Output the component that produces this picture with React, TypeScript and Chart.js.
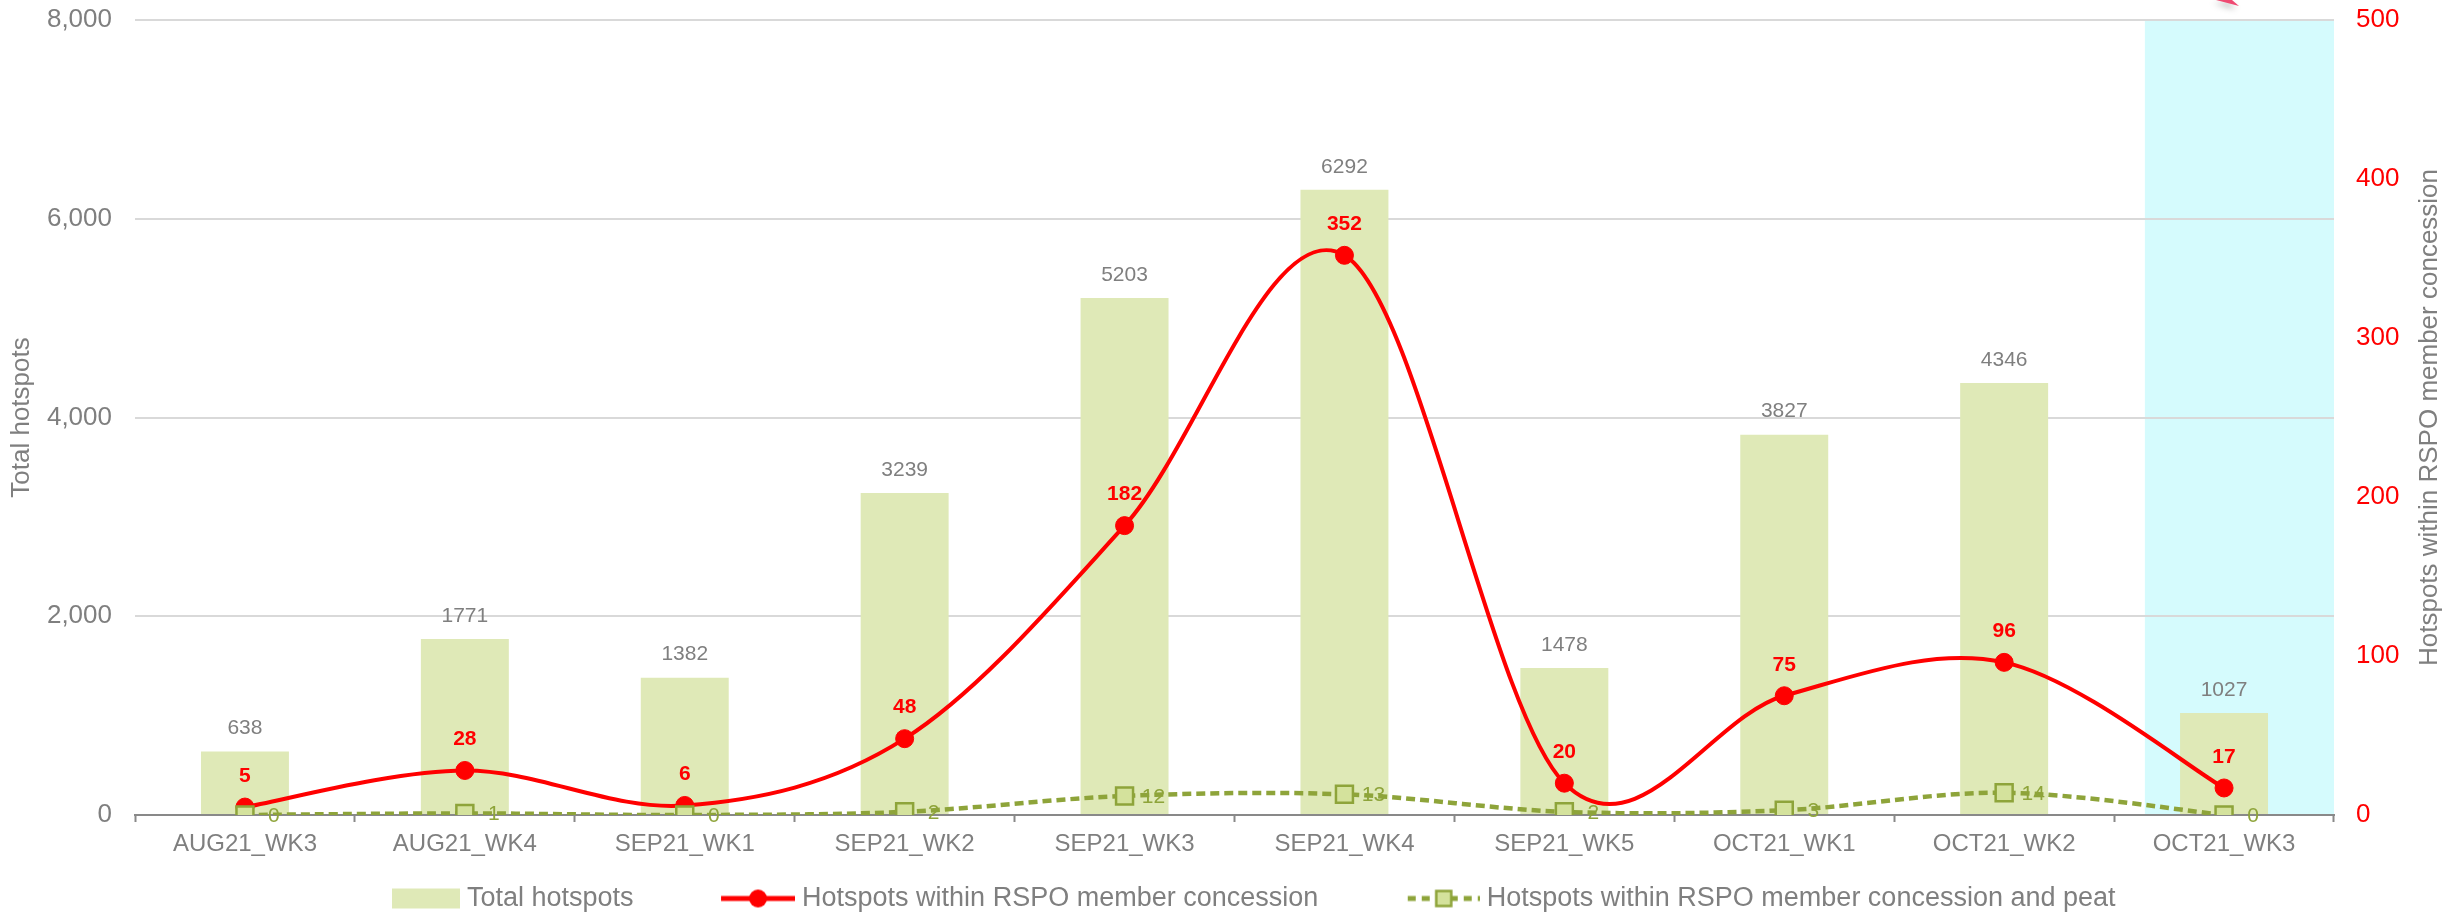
import React, { useEffect, useRef } from 'react';
import { Chart, registerables } from 'chart.js';

Chart.register(...registerables);

// ---------- data ----------
const categories = [
  'AUG21_WK3', 'AUG21_WK4', 'SEP21_WK1', 'SEP21_WK2', 'SEP21_WK3',
  'SEP21_WK4', 'SEP21_WK5', 'OCT21_WK1', 'OCT21_WK2', 'OCT21_WK3',
];
const totalHotspots = [638, 1771, 1382, 3239, 5203, 6292, 1478, 3827, 4346, 1027];
const rspoConcession = [5, 28, 6, 48, 182, 352, 20, 75, 96, 17];
const rspoConcessionPeat = [0, 1, 0, 2, 12, 13, 2, 3, 14, 0];
const leftTicks = [0, 2000, 4000, 6000, 8000];
const rightTicks = [0, 100, 200, 300, 400, 500];
const seriesNames = [
  'Total hotspots',
  'Hotspots within RSPO member concession',
  'Hotspots within RSPO member concession and peat',
];
const leftAxisTitle = 'Total hotspots';
const rightAxisTitle = 'Hotspots within RSPO member concession';

// ---------- styles ----------
const FONT = '"Liberation Sans", Arial, sans-serif';
const GREY = '#7f7f7f';
const BAR = '#dfe9b7';
const RED = '#ff0000';
const OLIVE = '#8ea43a';
const OLIVE_FILL = '#d4e29c';
const CYAN = '#d5fbfd';
const AXIS = '#898989';
const TRANSPARENT = 'rgba(0,0,0,0)';

const LEG_FONT = 27;
const LEG_P = 150;
const LEG_GAP = 7;

function legendImage(kind: number): HTMLCanvasElement {
  const W = LEG_P + LEG_FONT - 2 * LEG_GAP;
  const H = 28;
  const c = document.createElement('canvas');
  c.width = W;
  c.height = H;
  const g = c.getContext('2d')!;
  const cy = H / 2;
  if (kind === 0) {
    const cw = 68;
    g.fillStyle = BAR;
    g.fillRect(W - cw, cy - 10, cw, 20);
  } else if (kind === 1) {
    const cw = 74;
    g.strokeStyle = RED;
    g.lineWidth = 5;
    g.beginPath();
    g.moveTo(W - cw, cy);
    g.lineTo(W, cy);
    g.stroke();
    g.fillStyle = RED;
    g.beginPath();
    g.arc(W - cw / 2, cy, 9, 0, Math.PI * 2);
    g.fill();
  } else {
    const cw = 72;
    g.strokeStyle = OLIVE;
    g.lineWidth = 5;
    g.setLineDash([8, 6]);
    g.beginPath();
    g.moveTo(W - cw, cy);
    g.lineTo(W, cy);
    g.stroke();
    g.setLineDash([]);
    const s = 15;
    const cx = W - cw / 2;
    g.fillStyle = OLIVE_FILL;
    g.fillRect(cx - s / 2, cy - s / 2, s, s);
    g.lineWidth = 2.5;
    g.strokeStyle = OLIVE;
    g.strokeRect(cx - s / 2, cy - s / 2, s, s);
  }
  return c;
}

// Uniform Catmull-Rom control points (spreadsheet-style smoothing)
function smoothLine(chart: any, index: number) {
  const meta = chart.getDatasetMeta(index);
  const pts = meta.data;
  const n = pts.length;
  for (let i = 0; i < n; i++) {
    const prev = pts[Math.max(i - 1, 0)];
    const next = pts[Math.min(i + 1, n - 1)];
    const dx = (next.x - prev.x) / 6;
    const dy = (next.y - prev.y) / 6;
    pts[i].cp1x = pts[i].x - dx;
    pts[i].cp1y = pts[i].y - dy;
    pts[i].cp2x = pts[i].x + dx;
    pts[i].cp2y = pts[i].y + dy;
  }
  if (meta.dataset) meta.dataset._pointsUpdated = true;
}

const decorPlugin = {
  id: 'decor',
  beforeDraw(chart: any) {
    const { ctx, chartArea, scales } = chart;
    const x = scales.x;
    const step = x.getPixelForValue(1) - x.getPixelForValue(0);
    const left = x.getPixelForValue(categories.length - 1) - 0.36 * step;
    ctx.save();
    ctx.fillStyle = CYAN;
    ctx.fillRect(left, chartArea.top, chartArea.right - left, chartArea.bottom - chartArea.top);
    ctx.restore();
  },
  beforeDatasetDraw(chart: any, args: any) {
    if (args.index === 1 || args.index === 2) smoothLine(chart, args.index);
    if (args.index !== 2) return;
    const { ctx } = chart;
    const meta = chart.getDatasetMeta(2);
    ctx.save();
    ctx.font = `21px ${FONT}`;
    ctx.fillStyle = OLIVE;
    ctx.textAlign = 'center';
    ctx.textBaseline = 'middle';
    meta.data.forEach((el: any, i: number) => {
      ctx.fillText(String(rspoConcessionPeat[i]), el.x + 29, el.y + 1);
    });
    ctx.restore();
  },
  afterDatasetsDraw(chart: any) {
    const { ctx } = chart;
    ctx.save();
    ctx.textAlign = 'center';
    ctx.textBaseline = 'middle';
    ctx.font = `21px ${FONT}`;
    ctx.fillStyle = GREY;
    chart.getDatasetMeta(0).data.forEach((el: any, i: number) => {
      ctx.fillText(String(totalHotspots[i]), el.x, el.y - 23);
    });
    ctx.font = `bold 21px ${FONT}`;
    ctx.fillStyle = RED;
    chart.getDatasetMeta(1).data.forEach((el: any, i: number) => {
      ctx.fillText(String(rspoConcession[i]), el.x, el.y - 31);
    });
    ctx.restore();
  },
  afterDraw(chart: any) {
    const { ctx, chartArea } = chart;
    ctx.save();
    ctx.translate(chart.width - 33, (chartArea.top + chartArea.bottom) / 2);
    ctx.rotate(-Math.PI / 2);
    ctx.font = `26px ${FONT}`;
    ctx.fillStyle = GREY;
    ctx.textAlign = 'center';
    ctx.textBaseline = 'middle';
    ctx.fillText(rightAxisTitle, 0, 0);
    ctx.restore();

    // clipped annotation arrow tip at the top
    ctx.save();
    ctx.shadowColor = 'rgba(0,0,0,0.35)';
    ctx.shadowBlur = 6;
    ctx.shadowOffsetX = -3;
    ctx.shadowOffsetY = 3;
    ctx.fillStyle = '#ef4a72';
    ctx.beginPath();
    ctx.moveTo(2216, 0);
    ctx.lineTo(2232, 0);
    ctx.lineTo(2239, 6);
    ctx.closePath();
    ctx.fill();
    ctx.restore();
  },
};

export default function App() {
  const ref = useRef<HTMLCanvasElement | null>(null);

  useEffect(() => {
    document.body.style.margin = '0';
    const canvas = ref.current;
    if (!canvas) return;
    const images = [0, 1, 2].map(legendImage);

    const chart = new Chart(canvas, {
      type: 'bar',
      data: {
        labels: categories,
        datasets: [
          {
            type: 'bar',
            label: seriesNames[0],
            data: totalHotspots,
            yAxisID: 'y',
            backgroundColor: BAR,
            borderWidth: 0,
            barPercentage: 0.4,
            categoryPercentage: 1,
            order: 3,
          },
          {
            type: 'line',
            label: seriesNames[1],
            data: rspoConcession,
            yAxisID: 'y1',
            borderColor: RED,
            borderWidth: 4,
            pointRadius: 9,
            pointBackgroundColor: RED,
            pointBorderColor: RED,
            pointBorderWidth: 1,
            tension: 0.4,
            order: 2,
          },
          {
            type: 'line',
            label: seriesNames[2],
            data: rspoConcessionPeat,
            yAxisID: 'y1',
            borderColor: OLIVE,
            borderWidth: 4.5,
            borderDash: [9, 5],
            pointStyle: 'rect',
            pointRadius: 12,
            pointBackgroundColor: OLIVE_FILL,
            pointBorderColor: OLIVE,
            pointBorderWidth: 2.5,
            tension: 0.4,
            order: 1,
          },
        ] as any,
      },
      options: {
        responsive: false,
        animation: false,
        layout: { padding: { top: 20, left: 0, right: 44, bottom: -10 } },
        font: { family: FONT },
        plugins: {
          tooltip: { enabled: false },
          legend: {
            position: 'bottom',
            labels: {
              usePointStyle: true,
              pointStyleWidth: LEG_P,
              padding: 5,
              color: GREY,
              font: { size: LEG_FONT, family: FONT },
              generateLabels: () =>
                seriesNames.map((name, i) => ({
                  text: name,
                  fillStyle: TRANSPARENT,
                  strokeStyle: TRANSPARENT,
                  lineWidth: 0,
                  pointStyle: images[i],
                  hidden: false,
                  datasetIndex: i,
                  fontColor: GREY,
                })) as any,
            },
          },
        },
        scales: {
          x: {
            type: 'category',
            offset: true,
            grid: {
              offset: true,
              drawOnChartArea: false,
              drawTicks: true,
              tickLength: 7,
              tickColor: AXIS,
              tickWidth: 2,
              color: AXIS,
            },
            border: { display: true, color: AXIS, width: 2 },
            ticks: {
              color: GREY,
              font: { size: 24, family: FONT },
              padding: 8,
              maxRotation: 0,
              autoSkip: false,
            },
            afterFit: (s: any) => {
              s.height = 65;
            },
          },
          y: {
            position: 'left',
            min: leftTicks[0],
            max: leftTicks[leftTicks.length - 1],
            grid: {
              color: '#d9d9d9',
              lineWidth: 2,
              drawTicks: true,
              tickLength: 23,
              tickColor: TRANSPARENT,
            },
            border: { display: false },
            ticks: {
              stepSize: leftTicks[1] - leftTicks[0],
              color: GREY,
              padding: 0,
              font: { size: 26, family: FONT },
              callback: (v: any) => Number(v).toLocaleString('en-US'),
            },
            title: {
              display: true,
              text: leftAxisTitle,
              color: GREY,
              font: { size: 26, family: FONT },
              padding: { top: 6, bottom: 0 },
            },
            afterFit: (s: any) => {
              s.width = 135;
            },
          },
          y1: {
            position: 'right',
            min: rightTicks[0],
            max: rightTicks[rightTicks.length - 1],
            grid: {
              display: true,
              drawOnChartArea: false,
              drawTicks: true,
              tickLength: 22,
              tickColor: TRANSPARENT,
              color: TRANSPARENT,
            },
            border: { display: false },
            ticks: {
              stepSize: rightTicks[1] - rightTicks[0],
              color: RED,
              padding: 0,
              font: { size: 26, family: FONT },
            },
            afterFit: (s: any) => {
              s.width = 85;
            },
          },
        },
      } as any,
      plugins: [decorPlugin],
    });
    return () => chart.destroy();
  }, []);

  return (
    <div style={{ width: 2463, height: 912 }}>
      <canvas ref={ref} width={2463} height={912} style={{ display: 'block' }} />
    </div>
  );
}
